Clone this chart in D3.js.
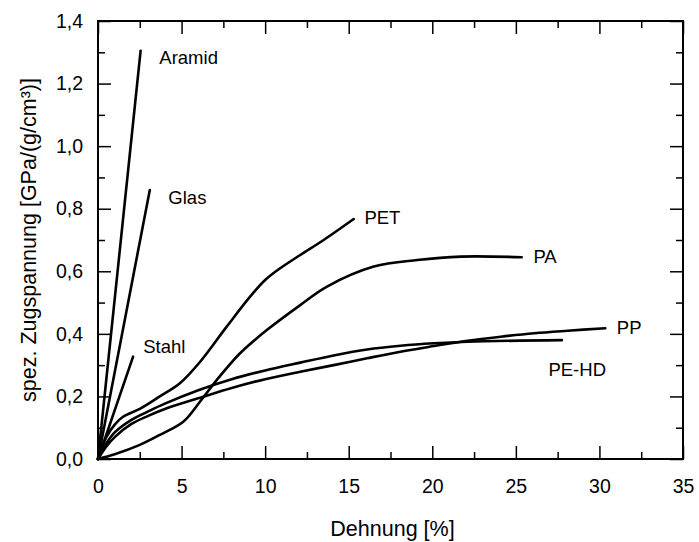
<!DOCTYPE html>
<html>
<head>
<meta charset="utf-8">
<script src="https://cdn.jsdelivr.net/npm/d3@7"></script>
<style>
  body { margin: 0; background: #fff; }
  svg { font-family: Arial, "Liberation Sans", sans-serif; }
  .axis path, .axis line { stroke: #000; }
  .axis path { stroke-width: 2; }
  .axis line { stroke-width: 1.5; }
  .axis text { font-size: 19.5px; fill: #000; }
</style>
</head>
<body>
<svg id="chart" width="699" height="542"></svg>
<script>
// stress-strain curves, strain [%] vs. specific tensile stress [GPa/(g/cm³)]
const aramid = [[0, 0], [2.55, 1.305]];
const glas = [[0, 0], [3.1, 0.86]];
const stahl = [[0, 0], [2.1, 0.327]];
const pet = [[0, 0], [0.5, 0.07], [1, 0.11], [1.5, 0.135], [2.5, 0.16], [3.7, 0.2], [4.9, 0.242],
  [6.1, 0.31], [7.7, 0.423], [9.1, 0.519], [10, 0.572], [10.8, 0.606], [12.1, 0.652], [13.5, 0.7], [15.3, 0.767]];
const pa = [[0, 0], [1, 0.015], [2.5, 0.045], [3.7, 0.077], [5.1, 0.119], [6.1, 0.183], [7.1, 0.252],
  [8.5, 0.338], [10.1, 0.412], [12.1, 0.492], [13.7, 0.551], [16.5, 0.615], [19.1, 0.636],
  [21.7, 0.647], [25.35, 0.645]];
const pehd = [[0, 0], [0.5, 0.05], [1, 0.085], [2, 0.125], [3, 0.152], [4, 0.177], [6, 0.22],
  [8, 0.255], [10, 0.283], [12.1, 0.308], [14.1, 0.331], [16.1, 0.35], [18.1, 0.362],
  [20.1, 0.37], [22.1, 0.375], [27.75, 0.38]];
const pp = [[0, 0], [0.5, 0.04], [1, 0.07], [2, 0.112], [3, 0.138], [4, 0.16], [6, 0.194],
  [8, 0.227], [10, 0.255], [12.1, 0.279], [14.1, 0.3], [16.1, 0.322], [18.1, 0.343],
  [20.1, 0.361], [22.1, 0.378], [24.1, 0.391], [26.1, 0.402], [28.1, 0.41], [30.35, 0.418]];

const seriesNames = ['Aramid', 'Glas', 'Stahl', 'PET', 'PA', 'PE-HD', 'PP'];
const seriesData = [aramid, glas, stahl, pet, pa, pehd, pp];
// label anchors, in data units (strain, stress)
const labelPos = [[3.67, 1.262], [4.21, 0.815], [2.71, 0.34], [15.94, 0.751], [26.05, 0.625], [26.95, 0.265], [31.04, 0.4]];

const xMajor = [0, 5, 10, 15, 20, 25, 30, 35];
const xMinor = [2.5, 7.5, 12.5, 17.5, 22.5, 27.5, 32.5];
const yMajor = [0, 0.2, 0.4, 0.6, 0.8, 1.0, 1.2, 1.4];
const yMinor = [0.1, 0.3, 0.5, 0.7, 0.9, 1.1, 1.3];

const svg = d3.select('#chart');
const m = { left: 98, right: 683, top: 21, bottom: 459 };

const x = d3.scaleLinear().domain([0, 35]).range([m.left, m.right]);
const y = d3.scaleLinear().domain([0, 1.4]).range([m.bottom, m.top]);
const fmtY = v => d3.format('.1f')(v).replace('.', ',');

const bigTick = 13, smallTick = 7;

// bottom
svg.append('g').attr('class', 'axis').attr('transform', `translate(0,${m.bottom})`)
  .call(d3.axisBottom(x).tickValues(xMajor).tickSize(-bigTick).tickPadding(20).tickFormat(d3.format('d')));
svg.append('g').attr('class', 'axis').attr('transform', `translate(0,${m.bottom})`)
  .call(d3.axisBottom(x).tickValues(xMinor).tickSize(-smallTick).tickFormat(''));
// top
svg.append('g').attr('class', 'axis').attr('transform', `translate(0,${m.top})`)
  .call(d3.axisTop(x).tickValues(xMajor).tickSize(-bigTick).tickFormat(''));
svg.append('g').attr('class', 'axis').attr('transform', `translate(0,${m.top})`)
  .call(d3.axisTop(x).tickValues(xMinor).tickSize(-smallTick).tickFormat(''));
// left
svg.append('g').attr('class', 'axis').attr('transform', `translate(${m.left},0)`)
  .call(d3.axisLeft(y).tickValues(yMajor).tickSize(-bigTick).tickPadding(15).tickFormat(fmtY));
svg.append('g').attr('class', 'axis').attr('transform', `translate(${m.left},0)`)
  .call(d3.axisLeft(y).tickValues(yMinor).tickSize(-smallTick).tickFormat(''));
// right
svg.append('g').attr('class', 'axis').attr('transform', `translate(${m.right},0)`)
  .call(d3.axisRight(y).tickValues(yMajor).tickSize(-bigTick).tickFormat(''));
svg.append('g').attr('class', 'axis').attr('transform', `translate(${m.right},0)`)
  .call(d3.axisRight(y).tickValues(yMinor).tickSize(-smallTick).tickFormat(''));

svg.selectAll('.axis .domain').attr('d', null);
svg.append('rect')
  .attr('x', m.left).attr('y', m.top)
  .attr('width', m.right - m.left).attr('height', m.bottom - m.top)
  .attr('fill', 'none').attr('stroke', '#000').attr('stroke-width', 2);

const line = d3.line()
  .x(d => x(d[0]))
  .y(d => y(d[1]))
  .curve(d3.curveCatmullRom.alpha(0.5));

svg.append('g').selectAll('path')
  .data(seriesData)
  .enter()
  .append('path')
  .attr('d', line)
  .attr('fill', 'none')
  .attr('stroke', '#000')
  .attr('stroke-width', 2.6)
  .attr('stroke-linecap', 'round');

svg.append('g').selectAll('text')
  .data(seriesNames)
  .enter()
  .append('text')
  .attr('x', (d, i) => x(labelPos[i][0]))
  .attr('y', (d, i) => y(labelPos[i][1]))
  .attr('font-size', 18.5)
  .text(d => d);

svg.append('text')
  .attr('x', (m.left + m.right) / 2 + 2)
  .attr('y', 536)
  .attr('text-anchor', 'middle')
  .attr('font-size', 21.5)
  .text('Dehnung [%]');

svg.append('text')
  .attr('transform', `translate(36,${(m.top + m.bottom) / 2}) rotate(-90)`)
  .attr('text-anchor', 'middle')
  .attr('font-size', 21.5)
  .text('spez. Zugspannung [GPa/(g/cm³)]');
</script>
</body>
</html>
